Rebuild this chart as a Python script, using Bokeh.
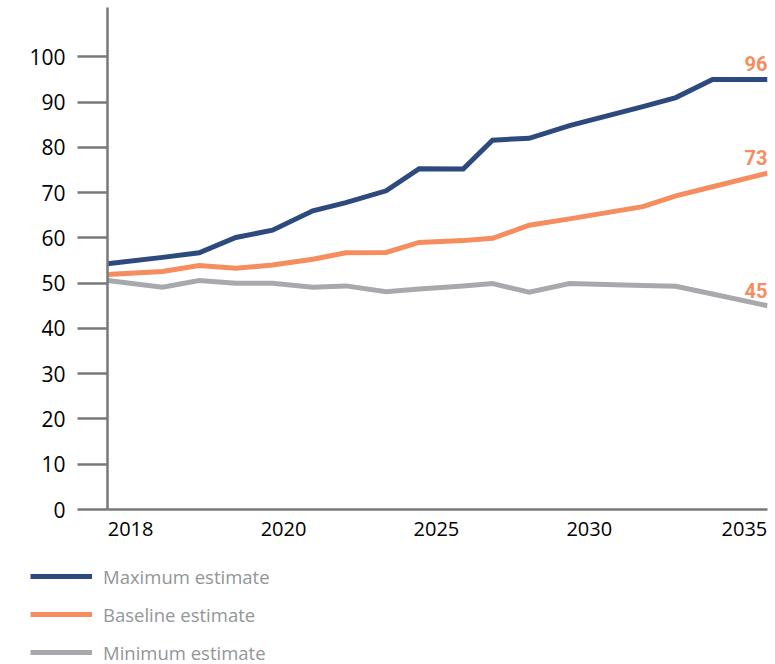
from bokeh.plotting import figure
from bokeh.layouts import column, row
from bokeh.models import Range1d, FixedTicker, Legend, LegendItem, ColumnDataSource
from bokeh.core.properties import value
from bokeh.embed import file_html
from bokeh.resources import INLINE

# ---- data ----
period = [0, 1.5, 2.5, 3.5, 4.5, 5.6, 6.5, 7.6, 8.5, 9.7, 10.5, 11.5, 12.6, 14.6, 15.5, 16.5, 18]
max_est = [54.3, 55.7, 56.7, 60.1, 61.7, 66.0, 67.8, 70.4, 75.3, 75.2, 81.6, 82.0, 84.8, 89.0, 91.0, 95.0, 95.0]
base_est = [51.9, 52.6, 53.9, 53.3, 54.0, 55.3, 56.7, 56.8, 59.0, 59.4, 59.9, 62.8, 64.2, 66.9, 69.3, 71.3, 74.3]
min_est = [50.6, 49.1, 50.6, 50.0, 50.0, 49.1, 49.4, 48.1, 48.7, 49.4, 49.9, 48.0, 49.9, 49.5, 49.3, 47.6, 45.0]
series_names = ["Maximum estimate", "Baseline estimate", "Minimum estimate"]
end_labels = ["96", "73", "45"]
x_tick_labels = ["2018", "2020", "2025", "2030", "2035"]
x_tick_pos = [0.63, 4.8, 8.97, 13.14, 17.37]
y_ticks = [0, 10, 20, 30, 40, 50, 60, 70, 80, 90, 100]

NAVY = "#2C4A7D"
ORANGE = "#F68D5E"
GREY = "#A7A9AC"
AXIS = "#77787B"
FONT = "Open Sans"
colors = [NAVY, ORANGE, GREY]
series = [max_est, base_est, min_est]

p = figure(width=775, height=549, output_backend="svg", toolbar_location=None,
           x_range=Range1d(0, 18), y_range=Range1d(0, 110.9),
           min_border_left=107, min_border_right=8, min_border_top=7, min_border_bottom=40)
p.outline_line_color = None
p.grid.visible = False
p.background_fill_color = "white"

for ys, c in zip(series, colors):
    p.line(period, ys, line_color=c, line_width=5, line_join="miter")

src = ColumnDataSource(dict(x=[period[-1]] * 3,
                            y=[s[-1] for s in series],
                            t=end_labels))
p.text(x="x", y="y", text="t", source=src, text_color=ORANGE, text_font=value("Roboto"),
       text_font_style="bold", text_font_size="20px", text_align="right",
       text_baseline="bottom", y_offset=-8)

# y axis
ya = p.yaxis[0]
ya.ticker = FixedTicker(ticks=y_ticks)
ya.minor_tick_line_color = None
ya.major_tick_out = 30
ya.major_tick_in = 0
ya.major_tick_line_color = AXIS
ya.major_tick_line_width = 2.5
ya.axis_line_color = AXIS
ya.axis_line_width = 2.5
ya.major_label_standoff = 12
ya.major_label_text_font = FONT
ya.major_label_text_font_size = "21px"
ya.major_label_text_color = "#000000"

# x axis
xa = p.xaxis[0]
xa.ticker = FixedTicker(ticks=x_tick_pos)
xa.major_label_overrides = {pos: lab for pos, lab in zip(x_tick_pos, x_tick_labels)}
xa.minor_tick_line_color = None
xa.major_tick_line_color = None
xa.major_tick_out = 0
xa.major_tick_in = 0
xa.axis_line_color = AXIS
xa.axis_line_width = 2.5
xa.major_label_standoff = 12
xa.major_label_text_font = FONT
xa.major_label_text_font_size = "20px"
xa.major_label_text_color = "#000000"

# legend in its own strip below the chart (the lines there fall outside its view)
lg = figure(width=775, height=115, output_backend="svg", toolbar_location=None,
            x_range=Range1d(0, 1), y_range=Range1d(0, 1),
            min_border_left=0, min_border_right=0, min_border_top=0, min_border_bottom=0)
lg.axis.visible = False
lg.grid.visible = False
lg.outline_line_color = None
items = []
for name, ys, c in zip(series_names, series, colors):
    r = lg.line(period, ys, line_color=c, line_width=5)
    items.append(LegendItem(label=name, renderers=[r]))
legend = Legend(items=items, location=(30, -1), orientation="vertical",
                glyph_width=62, glyph_height=26, label_height=26, label_standoff=11,
                spacing=12, padding=0, margin=0,
                border_line_color=None, background_fill_alpha=0,
                label_text_font=FONT, label_text_font_size="18.5px", label_text_color="#939598")
lg.add_layout(legend, "center")

open("out.html", "w").write(file_html(column(p, row(lg), spacing=0), INLINE))
